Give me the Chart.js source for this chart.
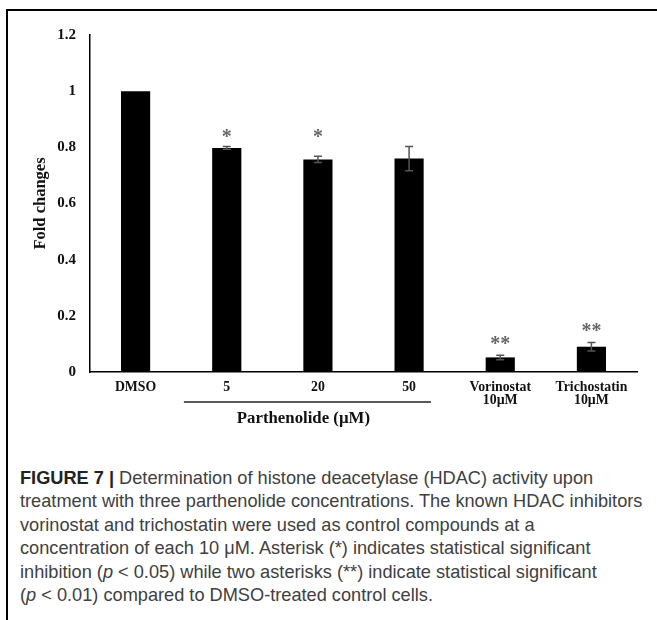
<!DOCTYPE html>
<html>
<head>
<meta charset="utf-8">
<script src="https://cdn.jsdelivr.net/npm/chart.js@4"></script>
<style>
  body { margin: 0; background: #fff; width: 657px; height: 620px; overflow: hidden; position: relative; }
  #frame { position: absolute; left: 6px; top: 9px; width: 700px; height: 700px; border-left: 2px solid #000; border-top: 2px solid #000; }
  #wrap { position: absolute; left: 0; top: 0; width: 657px; height: 440px; }
  #caption { position: absolute; left: 20px; top: 467px; font-family: "Liberation Sans", Arial, sans-serif; font-size: 18.2px; line-height: 23.4px; color: #404040; white-space: nowrap; }
  #caption b { color: #222; }
</style>
</head>
<body>
<div id="frame"></div>
<div id="wrap"><canvas id="chart"></canvas></div>
<div id="caption">
  <b>FIGURE 7 |</b> Determination of histone deacetylase (HDAC) activity upon<br>
  treatment with three parthenolide concentrations. The known HDAC inhibitors<br>
  vorinostat and trichostatin were used as control compounds at a<br>
  concentration of each 10 μM. Asterisk (*) indicates statistical significant<br>
  inhibition (<i>p</i> &lt; 0.05) while two asterisks (**) indicate statistical significant<br>
  (<i>p</i> &lt; 0.01) compared to DMSO-treated control cells.
</div>
<script>
let categories = ['DMSO', '5', '20', '50', ['Vorinostat', '10µM'], ['Trichostatin', '10µM']];
let foldChanges = [1.0, 0.798, 0.757, 0.760, 0.052, 0.090];
let errors = [0, 0.005, 0.011, 0.043, 0.008, 0.015];
let stars = ['', '*', '*', '', '**', '**'];
let starLevels = [null, 0.85, 0.85, null, 0.114, 0.16];
let yTicks = [0, 0.2, 0.4, 0.6, 0.8, 1, 1.2];
let groupLabel = 'Parthenolide (µM)';

const serif = '"Liberation Serif", "Times New Roman", serif';

// error bars, asterisks and the parthenolide bracket
const extras = {
    id: 'extras',
    afterDatasetsDraw(chart) {
        const ctx = chart.ctx;
        const x = chart.scales.x, y = chart.scales.y;
        ctx.save();

        ctx.strokeStyle = '#555';
        ctx.lineWidth = 1.5;
        foldChanges.forEach((v, i) => {
            if (!errors[i]) return;
            let px = x.getPixelForValue(i);
            let top = y.getPixelForValue(v + errors[i]);
            let bot = y.getPixelForValue(v - errors[i]);
            ctx.beginPath();
            ctx.moveTo(px, top); ctx.lineTo(px, bot);
            ctx.moveTo(px - 4, top); ctx.lineTo(px + 4, top);
            ctx.moveTo(px - 4, bot); ctx.lineTo(px + 4, bot);
            ctx.stroke();
        });

        ctx.fillStyle = '#666';
        ctx.font = 'bold 20px ' + serif;
        ctx.textAlign = 'center';
        ctx.textBaseline = 'middle';
        stars.forEach((s, i) => {
            if (!s) return;
            ctx.fillText(s, x.getPixelForValue(i), y.getPixelForValue(starLevels[i]) + 5);
        });

        let cw = x.getPixelForValue(1) - x.getPixelForValue(0);
        let x1 = x.getPixelForValue(1) - 0.47 * cw;
        let x2 = x.getPixelForValue(3) + 0.24 * cw;
        let by = chart.chartArea.bottom + 30;
        ctx.strokeStyle = '#222';
        ctx.beginPath();
        ctx.moveTo(x1, by); ctx.lineTo(x2, by);
        ctx.stroke();

        ctx.fillStyle = '#111';
        ctx.font = 'bold 16.8px ' + serif;
        ctx.fillText(groupLabel, (x1 + x2) / 2 - 4, by + 17);
        ctx.restore();
    }
};

let ctx = document.getElementById('chart').getContext('2d');

let chart = new Chart(ctx, {
    type: 'bar',
    data: {
        labels: categories,
        datasets: [{
            label: 'Fold changes',
            data: foldChanges,
            backgroundColor: '#000',
            barPercentage: 0.32,
            categoryPercentage: 1
        }]
    },
    options: {
        responsive: true,
        maintainAspectRatio: false,
        animation: false,
        layout: { padding: { left: 30, right: 20, top: 35, bottom: 18 } },
        plugins: { legend: { display: false }, tooltip: { enabled: false } },
        scales: {
            x: {
                grid: { display: false, drawTicks: false },
                border: { display: true, color: '#000', width: 1.5 },
                ticks: {
                    color: '#111',
                    padding: 9,
                    maxRotation: 0,
                    autoSkip: false,
                    font: { family: serif, size: 13.8, weight: 'bold', lineHeight: 0.95 }
                },
                afterFit: s => { s.height = 50; }
            },
            y: {
                min: 0,
                max: 1.2,
                grid: { display: false, drawTicks: false },
                border: { display: true, color: '#000', width: 1.5 },
                afterBuildTicks: s => { s.ticks = yTicks.map(v => ({ value: v })); },
                ticks: {
                    color: '#111',
                    padding: 14,
                    callback: v => String(v),
                    font: { family: serif, size: 15, weight: 'bold' }
                },
                title: {
                    display: true,
                    text: 'Fold changes',
                    color: '#111',
                    padding: { top: 1, bottom: 0 },
                    font: { family: serif, size: 16.5, weight: 'bold' }
                },
                afterFit: s => { s.width = 60; }
            }
        }
    },
    plugins: [extras]
});
</script>
</body>
</html>
